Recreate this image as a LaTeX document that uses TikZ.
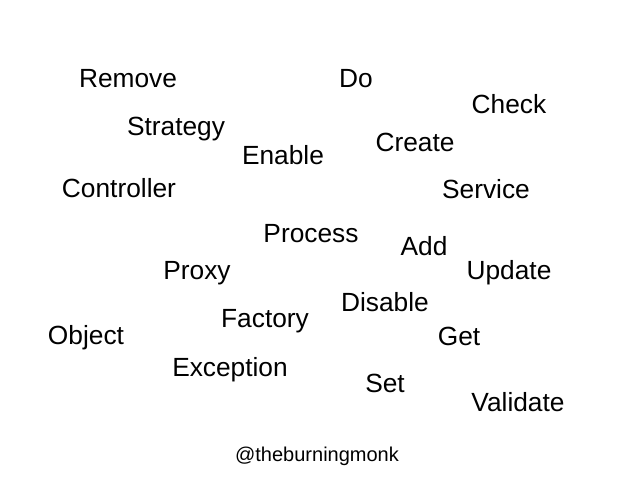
\documentclass[tikz,border=0pt]{standalone}
\usepackage{fontspec}
\setmainfont{Liberation Sans}
\tikzset{
  word/.style={anchor=mid, inner sep=0pt, font=\fontsize{26.3}{30}\selectfont},
  tag/.style={anchor=mid, inner sep=0pt, font=\fontsize{20}{23}\selectfont}
}
\begin{document}
\begin{tikzpicture}[x=1pt, y=-1pt]
  \useasboundingbox (0,0) rectangle (638,479);
  \path[word]
    (128,85) node (remove){Remove}
    (356,85) node (do){Do}
    (509,111) node (check){Check}
    (176,133) node (strategy){Strategy}
    (283,162) node (enable){Enable}
    (415,149) node (create){Create}
    (119,195) node (controller){Controller}
    (486,196) node (service){Service}
    (311,240) node (process){Process}
    (424,253) node (add){Add}
    (197,277) node (proxy){Proxy}
    (509,277) node (update){Update}
    (385,309) node (disable){Disable}
    (265,325) node (factory){Factory}
    (86,342) node (object){Object}
    (459,343) node (get){Get}
    (230,374) node (exception){Exception}
    (385,390) node (set){Set}
    (518,409) node (validate){Validate};
  \node[tag] (handle) at (317,459) {@theburningmonk};
\end{tikzpicture}
\end{document}
